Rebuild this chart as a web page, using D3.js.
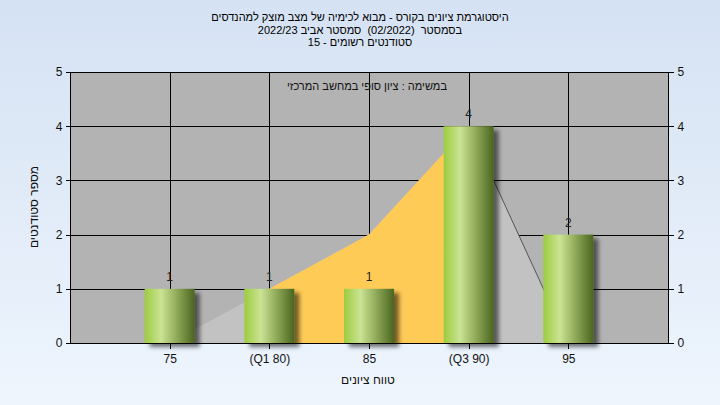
<!DOCTYPE html>
<html>
<head>
<meta charset="utf-8">
<script src="https://cdn.jsdelivr.net/npm/d3@7"></script>
<style>
  html, body { margin: 0; padding: 0; background: #fff; }
  svg { display: block; }
  text { font-family: "Liberation Sans", Arial, sans-serif; white-space: pre; }
</style>
</head>
<body>
<svg id="chart" width="720" height="405"></svg>
<script>
// ---- data ----
const categories = ["75", "(Q1 80)", "85", "(Q3 90)", "95"];
const gradePoints = [75, 80, 85, 90, 95];
const counts = [1, 1, 1, 4, 2];
const distX = [75, 80, 85, 90, 95];      // background distribution curve
const distY = [0, 1, 2, 4, 0];
const q1 = 80, q3 = 90;
const yTicks = [0, 1, 2, 3, 4, 5];
const xDomain = [70, 100];
const titleLines = [
  "היסטוגרמת ציונים בקורס - מבוא לכימיה של מצב מוצק למהנדסים",
  "בסמסטר  (02/2022)  סמסטר אביב 2022/23",
  "סטודנטים רשומים - 15"
];
const subTitle = "במשימה : ציון סופי במחשב המרכזי";
const yTitle = "מספר סטודנטים";
const xTitle = "טווח ציונים";

// ---- layout ----
const W = 720, H = 405;
const L = 70, R = 668, T = 72, B = 343;
const svg = d3.select("#chart");
const defs = svg.append("defs");

const bg = defs.append("linearGradient").attr("id", "bg")
  .attr("x1", 0).attr("y1", 0).attr("x2", 0).attr("y2", 1);
bg.append("stop").attr("offset", 0).attr("stop-color", "#d5e2f3");
bg.append("stop").attr("offset", 1).attr("stop-color", "#eef5fd");

const bar = defs.append("linearGradient").attr("id", "bar")
  .attr("x1", 0).attr("y1", 0).attr("x2", 1).attr("y2", 0);
[[0, "#9ccc40"], [0.33, "#cbe394"], [0.62, "#94ae5d"], [1, "#4a651f"]]
  .forEach(([o, c]) => bar.append("stop").attr("offset", o).attr("stop-color", c));

const sh = defs.append("filter").attr("id", "shadow")
  .attr("x", "-30%").attr("y", "-30%").attr("width", "170%").attr("height", "170%");
sh.append("feDropShadow").attr("dx", 5).attr("dy", 4).attr("stdDeviation", 2)
  .attr("flood-color", "#000").attr("flood-opacity", 0.55);

svg.append("rect").attr("width", W).attr("height", H).attr("fill", "url(#bg)");

const x = d3.scaleLinear().domain(xDomain).range([L, R]);
const y = d3.scaleLinear().domain([0, 5]).range([B, T]);

// plot background
svg.append("rect").attr("x", L).attr("y", T).attr("width", R - L).attr("height", B - T)
  .attr("fill", "#b3b3b3");

// gridlines
const grid = svg.append("g").attr("stroke", "#000").attr("stroke-width", 1).attr("shape-rendering", "crispEdges");
grid.selectAll(".h").data(yTicks).join("line")
  .attr("x1", L).attr("x2", R).attr("y1", d => Math.round(y(d)) + 0.5).attr("y2", d => Math.round(y(d)) + 0.5);
grid.selectAll(".v").data(gradePoints).join("line")
  .attr("y1", T).attr("y2", B).attr("x1", d => Math.round(x(d)) + 0.5).attr("x2", d => Math.round(x(d)) + 0.5);

// distribution areas
const pts = distX.map((v, i) => [v, distY[i]]);
const area = d3.area().x(d => x(d[0])).y0(y(0)).y1(d => y(d[1]));
svg.append("path").attr("d", area(pts)).attr("fill", "#c2c2c2");
svg.append("path").attr("d", area(pts.filter(d => d[0] >= q1 && d[0] <= q3))).attr("fill", "#ffcb57");
svg.append("path").attr("d", d3.line().x(d => x(d[0])).y(d => y(d[1]))(pts.filter(d => d[0] >= q3)))
  .attr("fill", "none").attr("stroke", "#555").attr("stroke-width", 1);

// plot frame
svg.append("rect").attr("x", L + 0.5).attr("y", T + 0.5).attr("width", R - L).attr("height", B - T)
  .attr("fill", "none").attr("stroke", "#000").attr("shape-rendering", "crispEdges");

// bars
const bw = 50;
svg.append("g").selectAll("rect").data(counts).join("rect")
  .attr("x", (d, i) => x(gradePoints[i]) - bw / 2)
  .attr("y", d => y(d))
  .attr("width", bw)
  .attr("height", d => y(0) - y(d))
  .attr("fill", "url(#bar)")
  .attr("filter", "url(#shadow)");

// value labels
svg.append("g").selectAll("text").data(counts).join("text")
  .attr("x", (d, i) => x(gradePoints[i]))
  .attr("y", d => y(d) - 8)
  .attr("text-anchor", "middle").attr("font-size", 12).attr("fill", "#222")
  .text(d => d);

// axes
function styleAxis(g) {
  g.select(".domain").remove();
  g.selectAll(".tick line").attr("stroke", "#000").attr("shape-rendering", "crispEdges");
  g.selectAll(".tick text").attr("font-size", 12).attr("fill", "#111")
    .attr("font-family", "'Liberation Sans', Arial, sans-serif");
}
svg.append("g").attr("transform", `translate(${L + 0.5},0)`)
  .call(d3.axisLeft(y).tickValues(yTicks).tickSize(5).tickPadding(3).tickFormat(d3.format("d")))
  .call(styleAxis);
svg.append("g").attr("transform", `translate(${R + 0.5},0)`)
  .call(d3.axisRight(y).tickValues(yTicks).tickSize(5).tickPadding(4).tickFormat(d3.format("d")))
  .call(styleAxis);
svg.append("g").attr("transform", `translate(0,${B + 0.5})`)
  .call(d3.axisBottom(x).tickValues(gradePoints).tickSize(5).tickPadding(6)
    .tickFormat((d, i) => categories[i]))
  .call(styleAxis);

// titles
svg.append("g").selectAll("text").data(titleLines).join("text")
  .attr("x", 360).attr("y", (d, i) => 21 + i * 12.5)
  .attr("text-anchor", "middle").attr("font-size", 11).attr("fill", "#000")
  .text(d => d);
svg.append("text").attr("x", 367).attr("y", 90).attr("text-anchor", "middle")
  .attr("font-size", 11).attr("fill", "#111").text(subTitle);
svg.append("text").attr("transform", "translate(38,207) rotate(-90)")
  .attr("text-anchor", "middle").attr("font-size", 12).attr("fill", "#111").text(yTitle);
svg.append("text").attr("x", 368).attr("y", 384).attr("text-anchor", "middle")
  .attr("font-size", 12).attr("fill", "#111").text(xTitle);
</script>
</body>
</html>
